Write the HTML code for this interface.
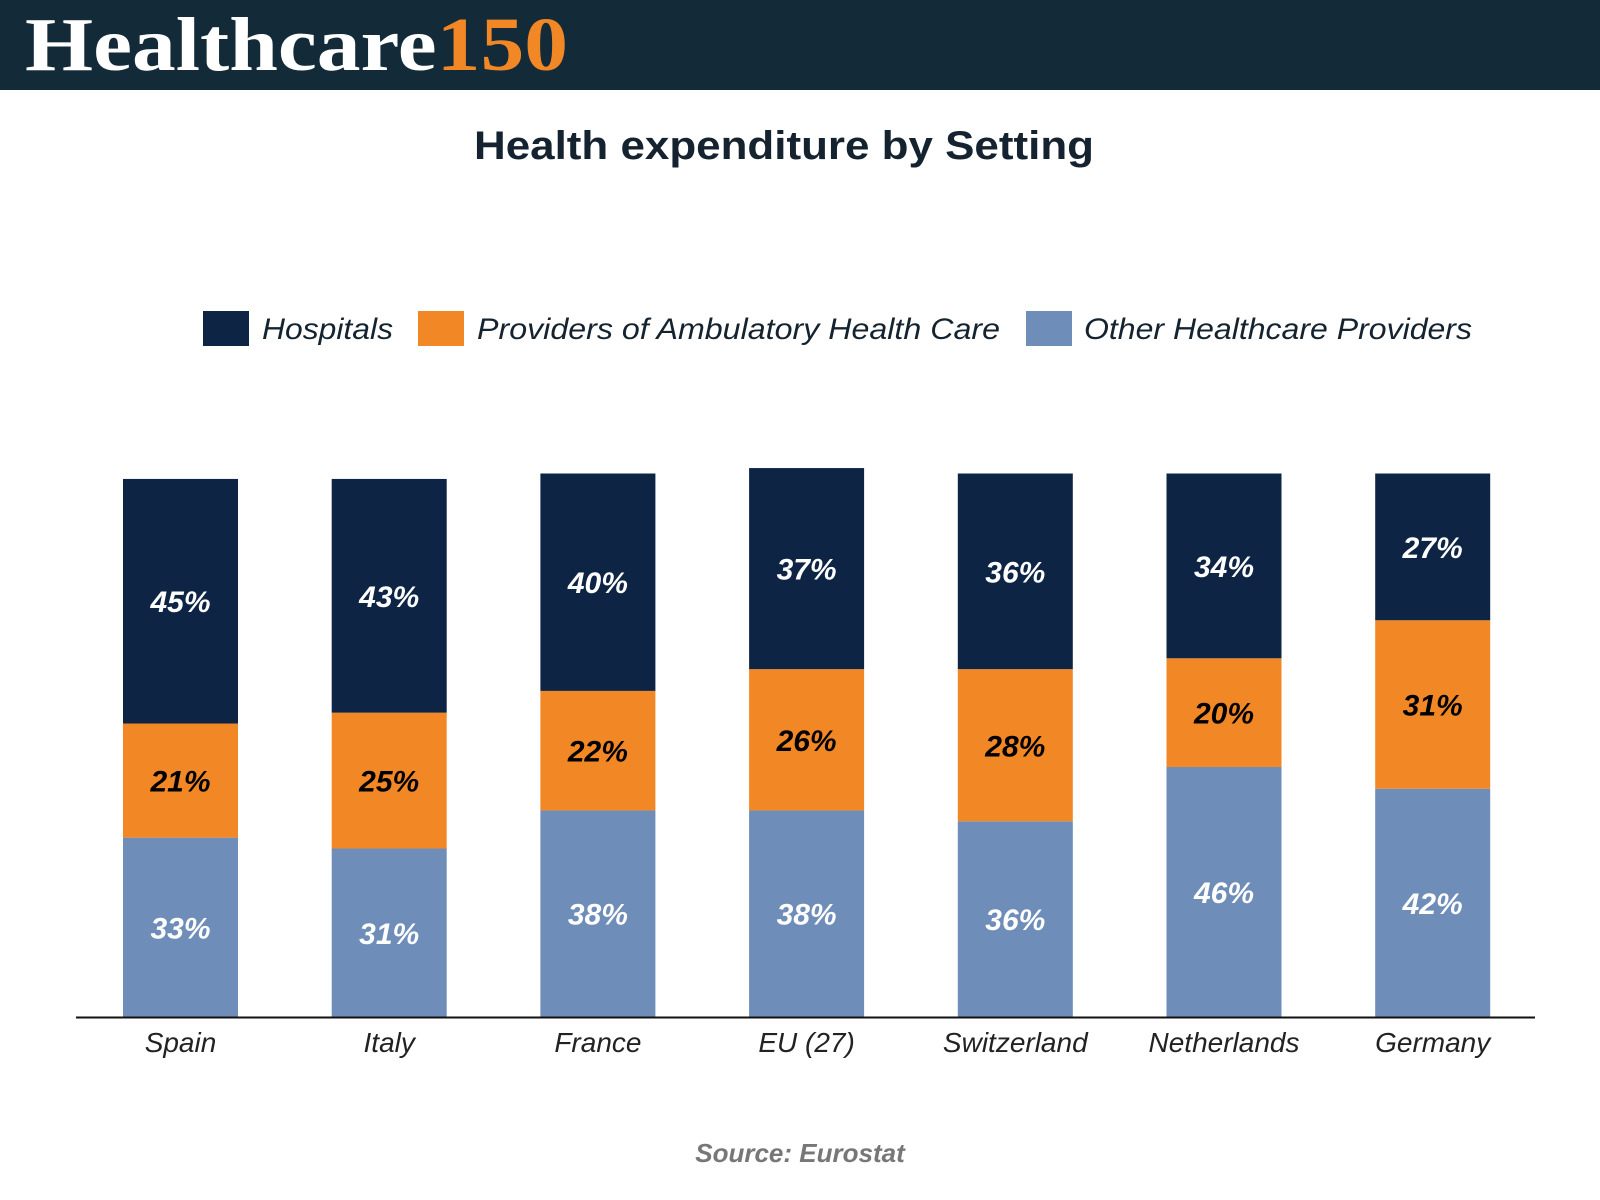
<!DOCTYPE html>
<html><head><meta charset="utf-8"><style>
html,body{margin:0;padding:0;background:#fff;}
svg{display:block;}
text{font-family:"Liberation Sans",sans-serif;}
text.logo{font-family:"Liberation Serif",serif;}
</style></head><body>
<svg id="chart" width="1600" height="1200" viewBox="0 0 1600 1200">
<rect x="0" y="0" width="1600" height="90" fill="#132a38"/>
<text class="logo" x="25" y="70" font-weight="bold" font-size="76" textLength="543" lengthAdjust="spacingAndGlyphs"><tspan fill="#ffffff">Healthcare</tspan><tspan fill="#f28726">150</tspan></text>
<text x="784" y="159" text-anchor="middle" font-weight="bold" font-size="40" fill="#14232f" textLength="620" lengthAdjust="spacingAndGlyphs">Health expenditure by Setting</text>
<g>
<rect x="203" y="311" width="46" height="35" fill="#0d2444"/>
<text x="262" y="339" font-style="italic" font-size="30" fill="#14232f" textLength="131" lengthAdjust="spacingAndGlyphs">Hospitals</text>
<rect x="418" y="311" width="46" height="35" fill="#f28726"/>
<text x="477" y="339" font-style="italic" font-size="30" fill="#14232f" textLength="523" lengthAdjust="spacingAndGlyphs">Providers of Ambulatory Health Care</text>
<rect x="1026" y="311" width="46" height="35" fill="#6e8db9"/>
<text x="1084" y="339" font-style="italic" font-size="30" fill="#14232f" textLength="388" lengthAdjust="spacingAndGlyphs">Other Healthcare Providers</text>
</g>
<g id="bars"></g>
<line x1="76" y1="1017.5" x2="1535" y2="1017.5" stroke="#111" stroke-width="2"/>
<g id="xlabels"></g>
<text x="800" y="1162" text-anchor="middle" font-style="italic" font-weight="bold" font-size="26" fill="#777">Source: Eurostat</text>
</svg>
<script>
const categories = ["Spain","Italy","France","EU (27)","Switzerland","Netherlands","Germany"];
const otherVals = [33,31,38,38,36,46,42];
const ambulatoryVals = [21,25,22,26,28,20,31];
const hospitalVals = [45,43,40,37,36,34,27];
const seriesNames = ["other","ambulatory","hospitals"];
const seriesColors = ["#6e8db9","#f28726","#0d2444"];
const labelColors = ["#ffffff","#000000","#ffffff"];

const NS = "http://www.w3.org/2000/svg";
const baseY = 1017, pxPer = 5.435;
const x0 = 123, step = 208.7, barW = 115;
function xPos(i){ return x0 + i*step; }
function yLen(v){ return v*pxPer; }
const bars = document.getElementById('bars');
const xl = document.getElementById('xlabels');
const series = [otherVals, ambulatoryVals, hospitalVals];
categories.forEach((c,i)=>{
  let y = baseY;
  series.forEach((vals,s)=>{
    const h = yLen(vals[i]);
    y -= h;
    const r = document.createElementNS(NS,'rect');
    r.setAttribute('x', xPos(i)); r.setAttribute('y', y);
    r.setAttribute('width', barW); r.setAttribute('height', h);
    r.setAttribute('fill', seriesColors[s]);
    
    
    bars.appendChild(r);
    const t = document.createElementNS(NS,'text');
    t.setAttribute('x', xPos(i)+barW/2); t.setAttribute('y', y+h/2+11);
    t.setAttribute('text-anchor','middle');
    t.setAttribute('font-size','30'); t.setAttribute('font-weight','bold'); t.setAttribute('font-style','italic');
    t.setAttribute('fill', labelColors[s]);
    t.textContent = vals[i] + '%';
    
    
    bars.appendChild(t);
  });
  const lt = document.createElementNS(NS,'text');
  lt.setAttribute('x', xPos(i)+barW/2); lt.setAttribute('y', 1052);
  lt.setAttribute('text-anchor','middle');
  lt.setAttribute('font-size','28'); lt.setAttribute('font-style','italic');
  lt.setAttribute('fill','#222');
  lt.textContent = c;
  
  
  xl.appendChild(lt);
});
</script>
</body></html>
